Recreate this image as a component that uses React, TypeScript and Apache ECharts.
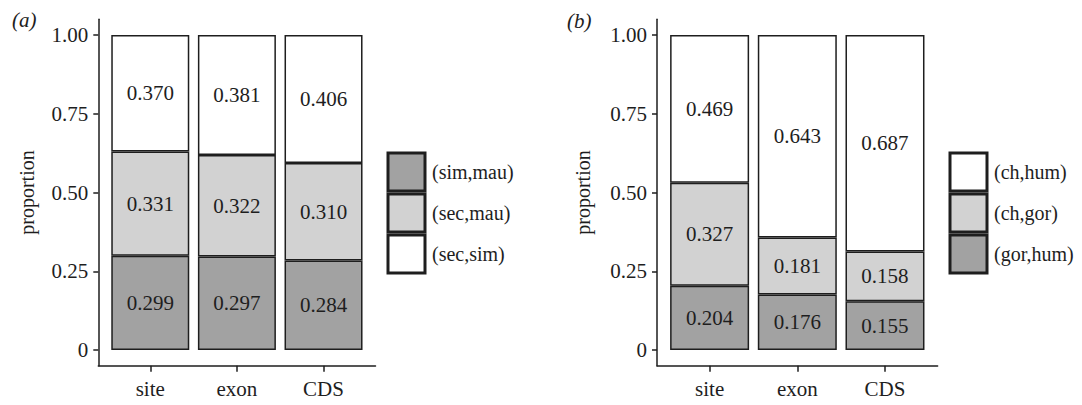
import React, { useEffect, useRef } from "react";
import * as echarts from "echarts";

const categories = ["site", "exon", "CDS"];
const xPositions = [1, 2, 3];
const yTicks = [0, 0.25, 0.5, 0.75, 1];

// panel (a)
const simMau = [0.299, 0.297, 0.284];
const secMau = [0.331, 0.322, 0.31];
const secSim = [0.37, 0.381, 0.406];

// panel (b)
const gorHum = [0.204, 0.176, 0.155];
const chGor = [0.327, 0.181, 0.158];
const chHum = [0.469, 0.643, 0.687];

const DARK = "#a2a2a2";
const LIGHT = "#d2d2d2";
const WHITE = "#ffffff";
const INK = "#1e1e1e";
const FONT = "Liberation Serif";

export default function App() {
  const ref = useRef<HTMLDivElement>(null);
  useEffect(() => {
    if (!ref.current) return;
    const chart = echarts.init(ref.current, null, { renderer: "svg" });

    const xAxis = (gridIndex: number) => ({
      type: "value",
      gridIndex,
      min: 0.4,
      max: 3.6,
      splitLine: { show: false },
      axisLine: { show: true, onZero: false, lineStyle: { color: INK, width: 1.5 } },
      axisTick: { show: true, length: 6, customValues: xPositions, lineStyle: { color: INK, width: 1.5 } },
      axisLabel: {
        customValues: xPositions,
        formatter: (v: number) => categories[Math.round(v) - 1] ?? "",
        fontFamily: FONT,
        fontSize: 21,
        color: INK,
        margin: 13,
      },
    });
    const yAxis = (gridIndex: number, nameGap: number) => ({
      type: "value",
      gridIndex,
      min: -0.05,
      max: 1.05,
      name: "proportion",
      nameLocation: "middle",
      nameGap,
      nameTextStyle: { fontFamily: FONT, fontSize: 20, color: INK },
      splitLine: { show: false },
      axisLine: { show: true, onZero: false, lineStyle: { color: INK, width: 1.5 } },
      axisTick: { show: true, length: 5, customValues: yTicks, lineStyle: { color: INK, width: 1.5 } },
      axisLabel: {
        customValues: yTicks,
        formatter: (v: number) => (v === 0 ? "0" : v.toFixed(2)),
        fontFamily: FONT,
        fontSize: 21,
        color: INK,
        margin: 10,
      },
    });

    const bar = (name: string, vals: number[], color: string, idx: number, stack: string, width: number) => ({
      name,
      type: "bar",
      stack,
      xAxisIndex: idx,
      yAxisIndex: idx,
      barWidth: width,
      // value first so that the stack runs along y
      data: vals.map((v, i) => [v, xPositions[i]]),
      encode: { x: 1, y: 0 },
      itemStyle: { color, borderColor: INK, borderWidth: 1.5 },
      label: {
        show: true,
        position: "inside",
        formatter: (p: any) => p.value[0].toFixed(3),
        fontFamily: FONT,
        fontSize: 21,
        color: INK,
      },
    });

    const legend = (left: number, data: string[]) => ({
      orient: "vertical",
      left,
      top: 151.5,
      padding: 0,
      itemWidth: 37,
      itemHeight: 38,
      itemGap: 0,
      icon: "rect",
      selectedMode: false,
      data,
      itemStyle: { borderColor: INK, borderWidth: 3 },
      textStyle: { fontFamily: FONT, fontSize: 20, color: INK, padding: [0, 0, 0, 2] },
    });

    chart.setOption({
      animation: false,
      backgroundColor: "#ffffff",
      grid: [
        { left: 98.3, top: 19.25, width: 277.2, height: 346.5 },
        { left: 657, top: 19.25, width: 280.6, height: 346.5 },
      ],
      xAxis: [xAxis(0), xAxis(1)],
      yAxis: [yAxis(0, 61), yAxis(1, 64)],
      legend: [
        legend(386.5, ["(sim,mau)", "(sec,mau)", "(sec,sim)"]),
        legend(948.5, ["(ch,hum)", "(ch,gor)", "(gor,hum)"]),
      ],
      graphic: [
        {
          type: "text",
          left: 12,
          top: 9,
          style: { text: "(a)", font: `italic 21px "${FONT}"`, fill: INK },
        },
        {
          type: "text",
          left: 567,
          top: 10,
          style: { text: "(b)", font: `italic 21px "${FONT}"`, fill: INK },
        },
      ],
      series: [
        bar("(sim,mau)", simMau, DARK, 0, "a", 78),
        bar("(sec,mau)", secMau, LIGHT, 0, "a", 78),
        bar("(sec,sim)", secSim, WHITE, 0, "a", 78),
        bar("(gor,hum)", gorHum, DARK, 1, "b", 79),
        bar("(ch,gor)", chGor, LIGHT, 1, "b", 79),
        bar("(ch,hum)", chHum, WHITE, 1, "b", 79),
      ],
    });
    return () => chart.dispose();
  }, []);
  return (
    <div
      ref={ref}
      style={{ position: "fixed", left: 0, top: 0, width: 1082, height: 405, background: "#fff" }}
    />
  );
}
